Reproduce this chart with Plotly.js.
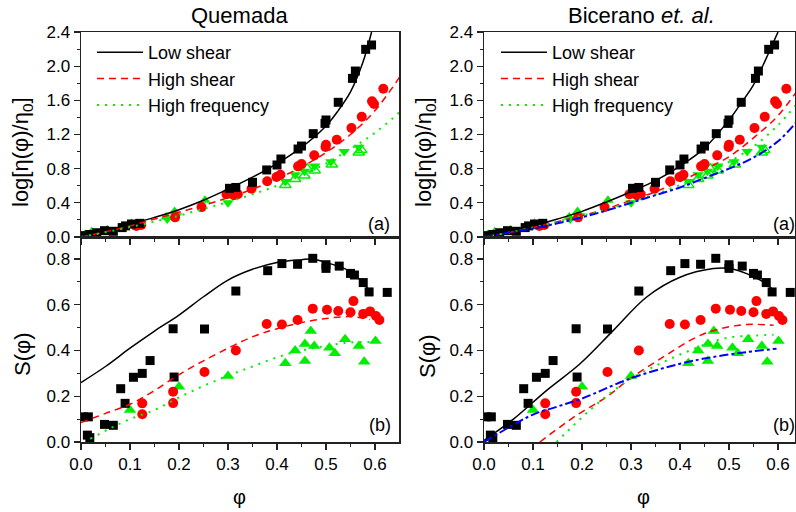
<!DOCTYPE html>
<html>
<head>
<meta charset="utf-8">
<script src="https://cdn.plot.ly/plotly-3.0.1.min.js"></script>
<style>body{margin:0;padding:0;background:#fff}#chart{width:796px;height:512px}</style>
</head>
<body>
<div id="chart"></div>
<script>
// ---------- experimental data (shared by both columns) ----------
// top panels: log[eta/eta0]
var lowTopPhi = [0.007,0.018,0.032,0.048,0.066,0.084,0.091,0.103,0.12,0.303,0.316,0.35,0.379,0.40,0.408,0.443,0.45,0.474,0.498,0.50,0.525,0.554,0.56,0.581,0.593];
var lowTopVal = [0.016,0.03,0.05,0.074,0.067,0.11,0.13,0.152,0.16,0.57,0.58,0.64,0.785,0.843,0.913,1.03,1.065,1.21,1.33,1.37,1.577,1.857,1.943,2.197,2.248];
var highTopPhi = [0.113,0.123,0.192,0.246,0.297,0.312,0.32,0.348,0.38,0.399,0.407,0.443,0.45,0.476,0.499,0.50,0.522,0.552,0.573,0.594,0.598,0.617];
var highTopVal = [0.13,0.14,0.23,0.35,0.50,0.49,0.50,0.565,0.652,0.702,0.729,0.827,0.855,0.956,1.053,1.08,1.139,1.276,1.408,1.588,1.557,1.736];
var freqUpPhi = [0.008,0.022,0.054,0.103,0.174,0.191,0.253,0.30];
var freqUpVal = [0.03,0.062,0.085,0.16,0.235,0.30,0.43,0.48];
var freqDownPhi = [0.105,0.176,0.195,0.30,0.417,0.437,0.456,0.477,0.51,0.537,0.567];
var freqDownVal = [0.14,0.21,0.25,0.40,0.65,0.73,0.77,0.83,0.88,1.00,1.05];
var freqOpenPhi = [0.417,0.437,0.456,0.462,0.477,0.512,0.567,0.572];
var freqOpenVal = [0.61,0.68,0.72,0.80,0.78,0.85,0.99,1.02];
// bottom panels: S(phi)
var lowSPhi = [0.005,0.015,0.013,0.018,0.048,0.066,0.081,0.09,0.107,0.125,0.141,0.188,0.19,0.252,0.316,0.381,0.41,0.442,0.473,0.50,0.50,0.527,0.55,0.558,0.576,0.588,0.625];
var lowSVal = [0.11,0.11,0.03,0.019,0.077,0.073,0.233,0.169,0.283,0.30,0.356,0.495,0.284,0.494,0.66,0.749,0.78,0.777,0.803,0.775,0.759,0.769,0.737,0.73,0.697,0.656,0.654];
var highSPhi = [0.125,0.125,0.188,0.188,0.252,0.316,0.379,0.41,0.442,0.473,0.502,0.525,0.55,0.556,0.576,0.59,0.602,0.609];
var highSVal = [0.169,0.121,0.22,0.17,0.306,0.40,0.516,0.514,0.533,0.583,0.578,0.573,0.567,0.616,0.56,0.571,0.551,0.533];
var freqSPhi = [0.10,0.20,0.30,0.417,0.437,0.457,0.457,0.469,0.476,0.507,0.518,0.539,0.567,0.578,0.601];
var freqSVal = [0.14,0.242,0.289,0.344,0.40,0.428,0.354,0.485,0.42,0.412,0.388,0.449,0.42,0.351,0.441];

// ---------- model curves ----------
var curvePhi = [0,0.05,0.1,0.15,0.2,0.25,0.3,0.35,0.4,0.45,0.5,0.55,0.6,0.65];
// Quemada, top
var qLowPhi = [0,0.05,0.1,0.15,0.2,0.25,0.3,0.35,0.4,0.45,0.5,0.525,0.55,0.575,0.593];
var qLowVal = [0,0.07,0.15,0.23,0.32,0.43,0.56,0.70,0.86,1.05,1.30,1.48,1.70,2.04,2.40];
var qHighVal = [0,0.06,0.13,0.21,0.29,0.37,0.46,0.56,0.68,0.82,0.99,1.20,1.48,1.87];
var qFreqVal = [0,0.056,0.116,0.18,0.25,0.33,0.41,0.50,0.60,0.72,0.86,1.03,1.22,1.46];
// Bicerano, top
var bLowPhi = [0,0.05,0.1,0.15,0.2,0.25,0.3,0.35,0.4,0.45,0.5,0.525,0.55,0.575,0.6];
var bLowVal = [0,0.06,0.13,0.21,0.30,0.41,0.53,0.66,0.83,1.04,1.37,1.57,1.78,2.08,2.40];
var bTopPhi = [0,0.05,0.1,0.15,0.2,0.25,0.3,0.35,0.4,0.45,0.5,0.55,0.6,0.64];
var bHighVal = [0,0.05,0.11,0.18,0.25,0.33,0.43,0.53,0.65,0.79,0.94,1.16,1.42,1.72];
var bFreqVal = [0,0.05,0.11,0.18,0.25,0.32,0.41,0.50,0.61,0.73,0.88,1.06,1.31,1.57];
var bBlueVal = [0,0.05,0.10,0.16,0.23,0.31,0.40,0.49,0.58,0.69,0.80,0.93,1.12,1.36];
// Quemada, bottom
var qSLowPhi = [0,0.05,0.1,0.15,0.2,0.25,0.3,0.35,0.4,0.45,0.47,0.5,0.55,0.59];
var qSLowVal = [0.26,0.33,0.41,0.485,0.555,0.635,0.708,0.755,0.785,0.797,0.80,0.785,0.745,0.66];
var qSHighPhi = [0,0.05,0.1,0.15,0.2,0.25,0.3,0.35,0.4,0.45,0.5,0.55,0.59];
var qSHighVal = [0.085,0.125,0.165,0.225,0.295,0.355,0.41,0.46,0.495,0.522,0.54,0.548,0.536];
var qSFreqPhi = [0.019,0.06,0.1,0.15,0.2,0.25,0.3,0.35,0.4,0.45,0.5,0.55,0.6];
var qSFreqVal = [0.014,0.06,0.1,0.14,0.195,0.245,0.29,0.33,0.37,0.40,0.42,0.435,0.437];
// Bicerano, bottom
var bSLowPhi = [0,0.06,0.128,0.196,0.264,0.332,0.40,0.468,0.502,0.536,0.57,0.591];
var bSLowVal = [0.007,0.10,0.226,0.342,0.488,0.634,0.72,0.758,0.758,0.736,0.70,0.663];
var bSHighPhi = [0.114,0.189,0.25,0.298,0.366,0.434,0.482,0.536,0.591];
var bSHighVal = [0.0,0.117,0.197,0.277,0.372,0.459,0.495,0.514,0.51];
var bSFreqPhi = [0.148,0.216,0.284,0.352,0.42,0.488,0.557,0.591];
var bSFreqVal = [0.0,0.139,0.255,0.335,0.40,0.452,0.466,0.469];
var bSBluePhi = [0,0.06,0.1,0.15,0.2,0.298,0.40,0.468,0.536,0.597];
var bSBlueVal = [0.0,0.075,0.12,0.155,0.19,0.277,0.342,0.372,0.393,0.408];

// ---------- tick labels ----------
var xTickVals = [0,0.1,0.2,0.3,0.4,0.5,0.6];
var xTickText = ['0.0','0.1','0.2','0.3','0.4','0.5','0.6'];
var yTopVals = [0,0.4,0.8,1.2,1.6,2.0,2.4];
var yTopText = ['0.0','0.4','0.8','1.2','1.6','2.0','2.4'];
var yBotVals = [0,0.2,0.4,0.6,0.8];
var yBotText = ['0.0','0.2','0.4','0.6','0.8'];

var BLACK = '#000000', RED = '#ff0000', GREEN = '#00ee00', BLUE = '#0000ff';

function pts(x, y, xa, ya, sym, color, size, lineW) {
  return {x: x, y: y, xaxis: xa, yaxis: ya, type: 'scatter', mode: 'markers', showlegend: false,
    marker: {symbol: sym, color: color, size: size, line: {width: lineW || 0, color: color}}};
}
function crv(x, y, xa, ya, color, dash, w, name, leg) {
  var t = {x: x, y: y, xaxis: xa, yaxis: ya, type: 'scatter', mode: 'lines',
    line: {color: color, dash: dash, width: w, shape: 'spline', smoothing: 1}, hoverinfo: 'skip'};
  if (name) { t.name = name; t.showlegend = true; t.legend = leg; } else { t.showlegend = false; }
  return t;
}

var traces = [];
function addExp(xa, yaT, yaB) {
  traces.push(pts(freqUpPhi, freqUpVal, xa.t, yaT, 'triangle-up', GREEN, 10));
  traces.push(pts(freqDownPhi, freqDownVal, xa.t, yaT, 'triangle-down', GREEN, 10));
  traces.push(pts(freqOpenPhi, freqOpenVal, xa.t, yaT, 'triangle-up-open', GREEN, 10, 1.5));
  traces.push(pts(highTopPhi, highTopVal, xa.t, yaT, 'circle', RED, 10));
  traces.push(pts(lowTopPhi, lowTopVal, xa.t, yaT, 'square', BLACK, 9));
  traces.push(pts(freqSPhi, freqSVal, xa.b, yaB, 'triangle-up', GREEN, 11));
  traces.push(pts(highSPhi, highSVal, xa.b, yaB, 'circle', RED, 10));
  traces.push(pts(lowSPhi, lowSVal, xa.b, yaB, 'square', BLACK, 9));
}
addExp({t: 'x', b: 'x2'}, 'y', 'y2');
addExp({t: 'x3', b: 'x4'}, 'y3', 'y4');

// Quemada curves
traces.push(crv(qLowPhi, qLowVal, 'x', 'y', BLACK, 'solid', 1.5, 'Low shear', 'legend'));
traces.push(crv(curvePhi, qHighVal, 'x', 'y', RED, '7px,5px', 1.5, 'High shear', 'legend'));
traces.push(crv(curvePhi, qFreqVal, 'x', 'y', GREEN, '2px,6px', 2, 'High frequency', 'legend'));
traces.push(crv(qSLowPhi, qSLowVal, 'x2', 'y2', BLACK, 'solid', 1.5));
traces.push(crv(qSHighPhi, qSHighVal, 'x2', 'y2', RED, '7px,5px', 1.5));
traces.push(crv(qSFreqPhi, qSFreqVal, 'x2', 'y2', GREEN, '2px,6px', 2));
// Bicerano curves
traces.push(crv(bLowPhi, bLowVal, 'x3', 'y3', BLACK, 'solid', 1.5, 'Low shear', 'legend2'));
traces.push(crv(bTopPhi, bHighVal, 'x3', 'y3', RED, '7px,5px', 1.5, 'High shear', 'legend2'));
traces.push(crv(bTopPhi, bFreqVal, 'x3', 'y3', GREEN, '2px,6px', 2, 'High frequency', 'legend2'));
traces.push(crv(bTopPhi, bBlueVal, 'x3', 'y3', BLUE, 'dashdot', 2));
traces.push(crv(bSLowPhi, bSLowVal, 'x4', 'y4', BLACK, 'solid', 1.5));
traces.push(crv(bSHighPhi, bSHighVal, 'x4', 'y4', RED, '7px,5px', 1.5));
traces.push(crv(bSFreqPhi, bSFreqVal, 'x4', 'y4', GREEN, '2px,6px', 2));
traces.push(crv(bSBluePhi, bSBlueVal, 'x4', 'y4', BLUE, 'dashdot', 2));

var W = 796, H = 512;
var LX = [81 / W, 399 / W], RX = [484 / W, 795 / W];
var TY = [1 - 237 / H, 1 - 32 / H], BY = [1 - 442 / H, 1 - 237 / H];
var tickFont = {family: 'Liberation Sans, Arial, sans-serif', size: 17, color: '#000'};

function xax(domain, range, anchor, labels) {
  return {domain: domain, range: range, anchor: anchor, showgrid: false, zeroline: false,
    showline: true, linecolor: '#222', linewidth: 1.5, mirror: true,
    ticks: 'outside', ticklen: 6, tickwidth: 1.2, tickcolor: '#222',
    tickvals: xTickVals, ticktext: xTickText, showticklabels: labels, tickfont: tickFont,
    minor: {dtick: 0.05, tick0: 0, ticks: 'outside', ticklen: 3, tickwidth: 1, tickcolor: '#222', showgrid: false}};
}
function yax(domain, range, anchor, vals, text, minorD) {
  return {domain: domain, range: range, anchor: anchor, showgrid: false, zeroline: false,
    showline: true, linecolor: '#222', linewidth: 1.5, mirror: true,
    ticks: 'outside', ticklen: 6, tickwidth: 1.2, tickcolor: '#222',
    tickvals: vals, ticktext: text, tickfont: tickFont,
    minor: {dtick: minorD, tick0: 0, ticks: 'outside', ticklen: 3, tickwidth: 1, tickcolor: '#222', showgrid: false}};
}

var fam = 'Liberation Sans, Arial, sans-serif';
function ann(x, y, text, size, angle) {
  return {xref: 'paper', yref: 'paper', x: x / W, y: 1 - y / H, text: text, showarrow: false,
    xanchor: 'center', yanchor: 'middle', textangle: angle || 0, font: {family: fam, size: size, color: '#000'}};
}

var legendStyle = function (xpx) {
  return {x: xpx / W, y: 1 - 34 / H, xanchor: 'left', yanchor: 'top', bgcolor: 'rgba(0,0,0,0)',
    font: {family: fam, size: 18, color: '#000'}, tracegroupgap: 0, itemwidth: 46};
};

var layout = {
  width: W, height: H, margin: {l: 0, r: 0, t: 0, b: 0}, paper_bgcolor: '#fff', plot_bgcolor: '#fff',
  showlegend: true,
  xaxis: xax(LX, [0, 0.649], 'y', false),
  yaxis: yax(TY, [0, 2.4], 'x', yTopVals, yTopText, 0.2),
  xaxis2: xax(LX, [0, 0.649], 'y2', true),
  yaxis2: yax(BY, [0, 0.8962], 'x2', yBotVals, yBotText, 0.1),
  xaxis3: xax(RX, [0, 0.6347], 'y3', false),
  yaxis3: yax(TY, [0, 2.4], 'x3', yTopVals, yTopText, 0.2),
  xaxis4: xax(RX, [0, 0.6347], 'y4', true),
  yaxis4: yax(BY, [0, 0.8962], 'x4', yBotVals, yBotText, 0.1),
  legend: legendStyle(92),
  legend2: legendStyle(496),
  annotations: [
    ann(240, 15, 'Quemada', 22),
    ann(641, 15, 'Bicerano <i>et. al.</i>', 22),
    ann(22, 152, 'log[η(φ)/η<sub>0</sub>]', 22, -90),
    ann(22, 354, 'S(φ)', 22, -90),
    ann(425, 152, 'log[η(φ)/η<sub>0</sub>]', 22, -90),
    ann(427, 356, 'S(φ)', 22, -90),
    ann(240, 497, 'φ', 20),
    ann(643, 497, 'φ', 20),
    ann(379, 224, '(a)', 18),
    ann(380, 425, '(b)', 18),
    ann(784, 224, '(a)', 18),
    ann(784, 425, '(b)', 18)
  ]
};

Plotly.newPlot('chart', traces, layout, {staticPlot: true, displayModeBar: false});
</script>
</body>
</html>
